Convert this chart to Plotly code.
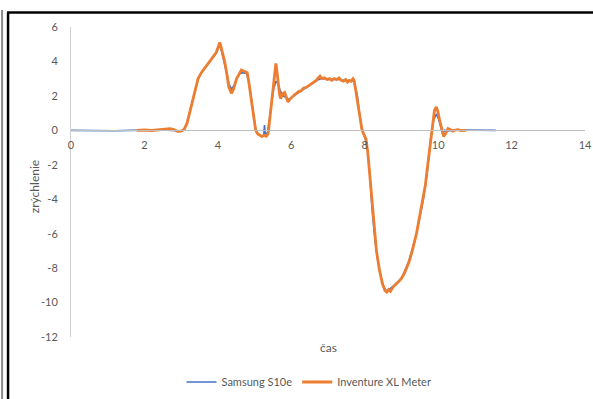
import plotly.graph_objects as go

# Inventure XL Meter (orange)
inv_t = [1.79, 2.0, 2.2, 2.4, 2.6, 2.7, 2.8, 2.9, 3.0, 3.08, 3.16, 3.24, 3.32, 3.4, 3.46, 3.55, 3.62, 3.69,
         3.78, 3.87, 3.95, 4.02, 4.05, 4.08, 4.13, 4.19, 4.25, 4.3, 4.37, 4.43, 4.51, 4.58, 4.64, 4.7, 4.75,
         4.8, 4.85, 4.92, 4.98, 5.03, 5.08, 5.14, 5.2, 5.27, 5.32, 5.37, 5.4, 5.42, 5.46, 5.5, 5.54, 5.58,
         5.61, 5.64, 5.68, 5.71, 5.76, 5.82, 5.87, 5.91, 5.96, 6.02, 6.08, 6.14, 6.2, 6.27, 6.33, 6.41, 6.48,
         6.55, 6.62, 6.68, 6.73, 6.78, 6.83, 6.9, 6.97, 7.04, 7.1, 7.17, 7.24, 7.3, 7.36, 7.42, 7.48, 7.53,
         7.58, 7.63, 7.68, 7.71, 7.75, 7.79, 7.84, 7.88, 7.92, 7.97, 8.03, 8.08, 8.14, 8.2, 8.26, 8.32, 8.4,
         8.48, 8.55, 8.6, 8.65, 8.7, 8.77, 8.85, 8.92, 9.0, 9.08, 9.15, 9.22, 9.3, 9.36, 9.41, 9.47, 9.53,
         9.59, 9.65, 9.7, 9.75, 9.79, 9.83, 9.86, 9.9, 9.95, 9.99, 10.04, 10.09, 10.15, 10.2, 10.27, 10.33,
         10.4, 10.47, 10.54, 10.62, 10.7, 10.77]
inv_a = [0.0, 0.02, -0.01, 0.03, 0.06, 0.1, 0.05, -0.06, -0.05, 0.05, 0.4, 1.06, 1.8, 2.5, 3.0, 3.35, 3.55, 3.7,
         3.95, 4.2, 4.5, 4.9, 5.1, 4.9, 4.5, 3.95, 3.2, 2.5, 2.15, 2.4, 3.0, 3.3, 3.5, 3.45, 3.4,
         3.35, 2.7, 1.65, 0.6, 0.0, -0.2, -0.3, -0.35, -0.3, -0.35, -0.2, 0.4, 0.87, 1.6, 2.6, 3.3, 3.88,
         3.4, 2.8, 2.1, 1.84, 2.1, 2.2, 1.85, 1.65, 1.8, 1.95, 2.05, 2.15, 2.25, 2.3, 2.45, 2.5, 2.6,
         2.7, 2.85, 2.9, 3.05, 3.15, 3.0, 3.05, 2.95, 3.0, 2.9, 3.0, 2.95, 3.05, 2.9, 2.85, 2.95, 2.8,
         2.9, 2.85, 3.0, 2.9, 2.4, 1.9, 1.2, 0.6, 0.1, -0.2, -0.48, -1.2, -2.7, -4.4, -5.8, -7.0, -8.1,
         -8.9, -9.3, -9.4, -9.25, -9.35, -9.1, -8.95, -8.8, -8.6, -8.3, -7.95, -7.56, -6.95, -6.45, -6.0, -5.3, -4.6,
         -3.9, -3.2, -2.3, -1.4, -0.6, 0.2, 0.78, 1.15, 1.36, 1.1, 0.6, 0.1, -0.35, -0.2, 0.1, 0.05,
         -0.05, 0.02, 0.04, -0.02, 0.01, 0.0]

# Samsung S10e (blue)
sam_t = [0.0, 0.4, 0.8, 1.2, 1.6, 2.0, 2.5, 3.0, 3.08, 3.16, 3.24, 3.32, 3.4, 3.46, 3.55, 3.62, 3.69, 3.78,
         3.87, 3.95, 4.02, 4.05, 4.09, 4.15, 4.22, 4.3, 4.37, 4.44, 4.51, 4.6, 4.7, 4.78, 4.84, 4.9, 4.97,
         5.03, 5.1, 5.2, 5.25, 5.27, 5.29, 5.35, 5.4, 5.46, 5.52, 5.58, 5.64, 5.7, 5.78, 5.86, 5.93, 6.0,
         6.1, 6.2, 6.3, 6.4, 6.5, 6.6, 6.7, 6.8, 6.9, 7.0, 7.1, 7.2, 7.3, 7.4, 7.5, 7.6, 7.7, 7.75, 7.8,
         7.85, 7.92, 7.98, 8.05, 8.12, 8.2, 8.28, 8.36, 8.45, 8.52, 8.6, 8.7, 8.8, 9.0, 9.2, 9.4, 9.5, 9.6,
         9.7, 9.8, 9.88, 9.95, 10.02, 10.08, 10.12, 10.18, 10.25, 10.4, 10.8, 11.2, 11.57]
sam_a = [0.0, -0.02, -0.01, -0.02, 0.0, 0.0, 0.02, -0.03, 0.05, 0.45, 1.1, 1.8, 2.5, 2.95, 3.35, 3.55, 3.72, 3.95,
         4.2, 4.45, 4.8, 4.9, 4.7, 4.2, 3.5, 2.7, 2.4, 2.6, 3.0, 3.3, 3.35, 3.3, 2.9, 2.0, 0.9,
         0.1, -0.25, -0.35, -0.3, 0.3, -0.2, -0.15, 0.6, 1.5, 2.4, 2.85, 2.7, 2.3, 2.0, 1.9, 1.8, 1.9,
         2.05, 2.2, 2.3, 2.45, 2.6, 2.75, 2.9, 3.0, 3.0, 2.95, 2.95, 2.95, 2.95, 2.9, 2.9, 2.85, 2.85, 2.5, 2.0,
         1.1, 0.05, -0.3, -0.7, -2.0, -4.6, -6.4, -7.6, -8.6, -9.1, -9.35, -9.2, -9.0, -8.6, -7.6, -6.1, -5.1, -4.0,
         -2.5, -0.4, 0.6, 0.95, 0.6, 0.0, -0.2, 0.0, -0.05, 0.02, 0.0, 0.01, 0.0]

x_ticks = [0, 2, 4, 6, 8, 10, 12, 14]
y_ticks = [-12, -10, -8, -6, -4, -2, 0, 2, 4, 6]

FONT = "Lato"
GREY = "#595959"
W, H = 593, 399
L, R, T, B = 71, 7.5, 27, 62.3
pw, ph = W - L - R, H - T - B

def px(x):
    return (x - L) / pw

def py(y):
    return (H - B - y) / ph

fig = go.Figure()
fig.add_trace(go.Scatter(x=sam_t, y=sam_a, mode="lines", name="Samsung S10e",
                         line=dict(color="#4472C4", width=1.6)))
fig.add_trace(go.Scatter(x=inv_t, y=inv_a, mode="lines", name="Inventure XL Meter",
                         line=dict(color="#ED7D31", width=2.8)))

fig.update_layout(
    width=W, height=H,
    margin=dict(l=L, r=R, t=T, b=B, pad=0, autoexpand=False),
    paper_bgcolor="white", plot_bgcolor="white",
    font=dict(family=FONT, size=11, color=GREY),
    showlegend=True,
    legend=dict(orientation="h", xref="container", yref="container",
                x=309 / W, xanchor="center", y=(H - 382) / H, yanchor="middle",
                font=dict(family=FONT, size=11, color=GREY), itemwidth=30,
                bgcolor="rgba(0,0,0,0)"),
    xaxis=dict(range=[0, 14], tickvals=x_ticks, ticktext=[str(v) for v in x_ticks],
               showgrid=False, zeroline=False, showline=True, linecolor="#BFBFBF", linewidth=1,
               anchor="free", position=12 / 18, ticks="", ticklabelstandoff=4,
               tickfont=dict(family=FONT, size=11, color=GREY)),
    yaxis=dict(range=[-12, 6], tickvals=y_ticks, ticktext=[str(v) for v in y_ticks],
               showgrid=False, zeroline=False, showline=True, linecolor="#D0D0D0", linewidth=1,
               ticks="", ticklabelstandoff=10,
               tickfont=dict(family=FONT, size=11, color=GREY)),
    annotations=[
        dict(text="čas", xref="paper", yref="paper", x=0.5, y=py(347), xanchor="center",
             yanchor="middle", showarrow=False, font=dict(family=FONT, size=12, color=GREY)),
        dict(text="zrýchlenie", xref="paper", yref="paper", x=px(34), y=py(187), xanchor="center",
             yanchor="middle", textangle=-90, showarrow=False,
             font=dict(family=FONT, size=12, color=GREY)),
    ],
    shapes=[
        dict(type="line", xref="paper", yref="paper", x0=px(2), x1=px(2), y0=py(10), y1=py(405),
             line=dict(color="#8a8a8a", width=2)),
        dict(type="line", xref="paper", yref="paper", x0=px(8), x1=px(8), y0=py(12.5), y1=py(405),
             line=dict(color="black", width=2.5)),
        dict(type="line", xref="paper", yref="paper", x0=px(7), x1=px(600), y0=py(12.5), y1=py(12.5),
             line=dict(color="black", width=2.5)),
    ],
)

fig.write_html("out.html", config={"displayModeBar": False},
               post_script="document.body.style.margin='0';document.body.style.overflow='hidden';")
